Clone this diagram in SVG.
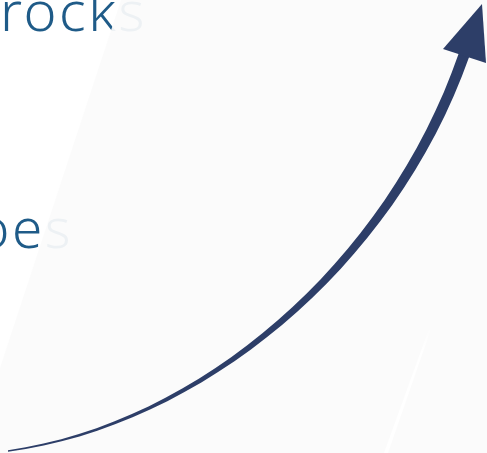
<svg xmlns="http://www.w3.org/2000/svg" width="487" height="453" viewBox="0 0 487 453">
  <defs>
    <style>
      .label { font-family: "Noto Sans", "Open Sans", "Liberation Sans", sans-serif; font-weight: 300; fill: #1f5b88; }
      .arrow { fill: #2d3e68; }
    </style>
    <linearGradient id="stripe" x1="0" y1="1" x2="0" y2="0">
      <stop offset="0" stop-color="#ffffff" stop-opacity="1"/>
      <stop offset="0.8" stop-color="#ffffff" stop-opacity="1"/>
      <stop offset="1" stop-color="#ffffff" stop-opacity="0"/>
    </linearGradient>
  </defs>
  <rect x="0" y="0" width="487" height="453" fill="#ffffff"/>
  <g id="texts">
    <text class="label" x="0" y="31" font-size="56" letter-spacing="2.5">rocks</text>
    <text class="label" x="-23" y="248" font-size="55" letter-spacing="2.5">oes</text>
  </g>
  <g id="backdrop">
    <polygon points="121,0 487,0 487,453 -28,453" fill="#fbfbfb" fill-opacity="0.94"/>
    <polygon points="430,326 432,326 388,453 384,453" fill="url(#stripe)"/>
  </g>
  <g id="connectors">
    <path class="arrow" d="M8,451.8 C199.3,427 394,270 469.2,56.8 L458.8,53.2 C386,264 198.7,423 8,450.2 Z"/>
    <polygon class="arrow" points="482,4 443,49 486,63"/>
  </g>
</svg>
